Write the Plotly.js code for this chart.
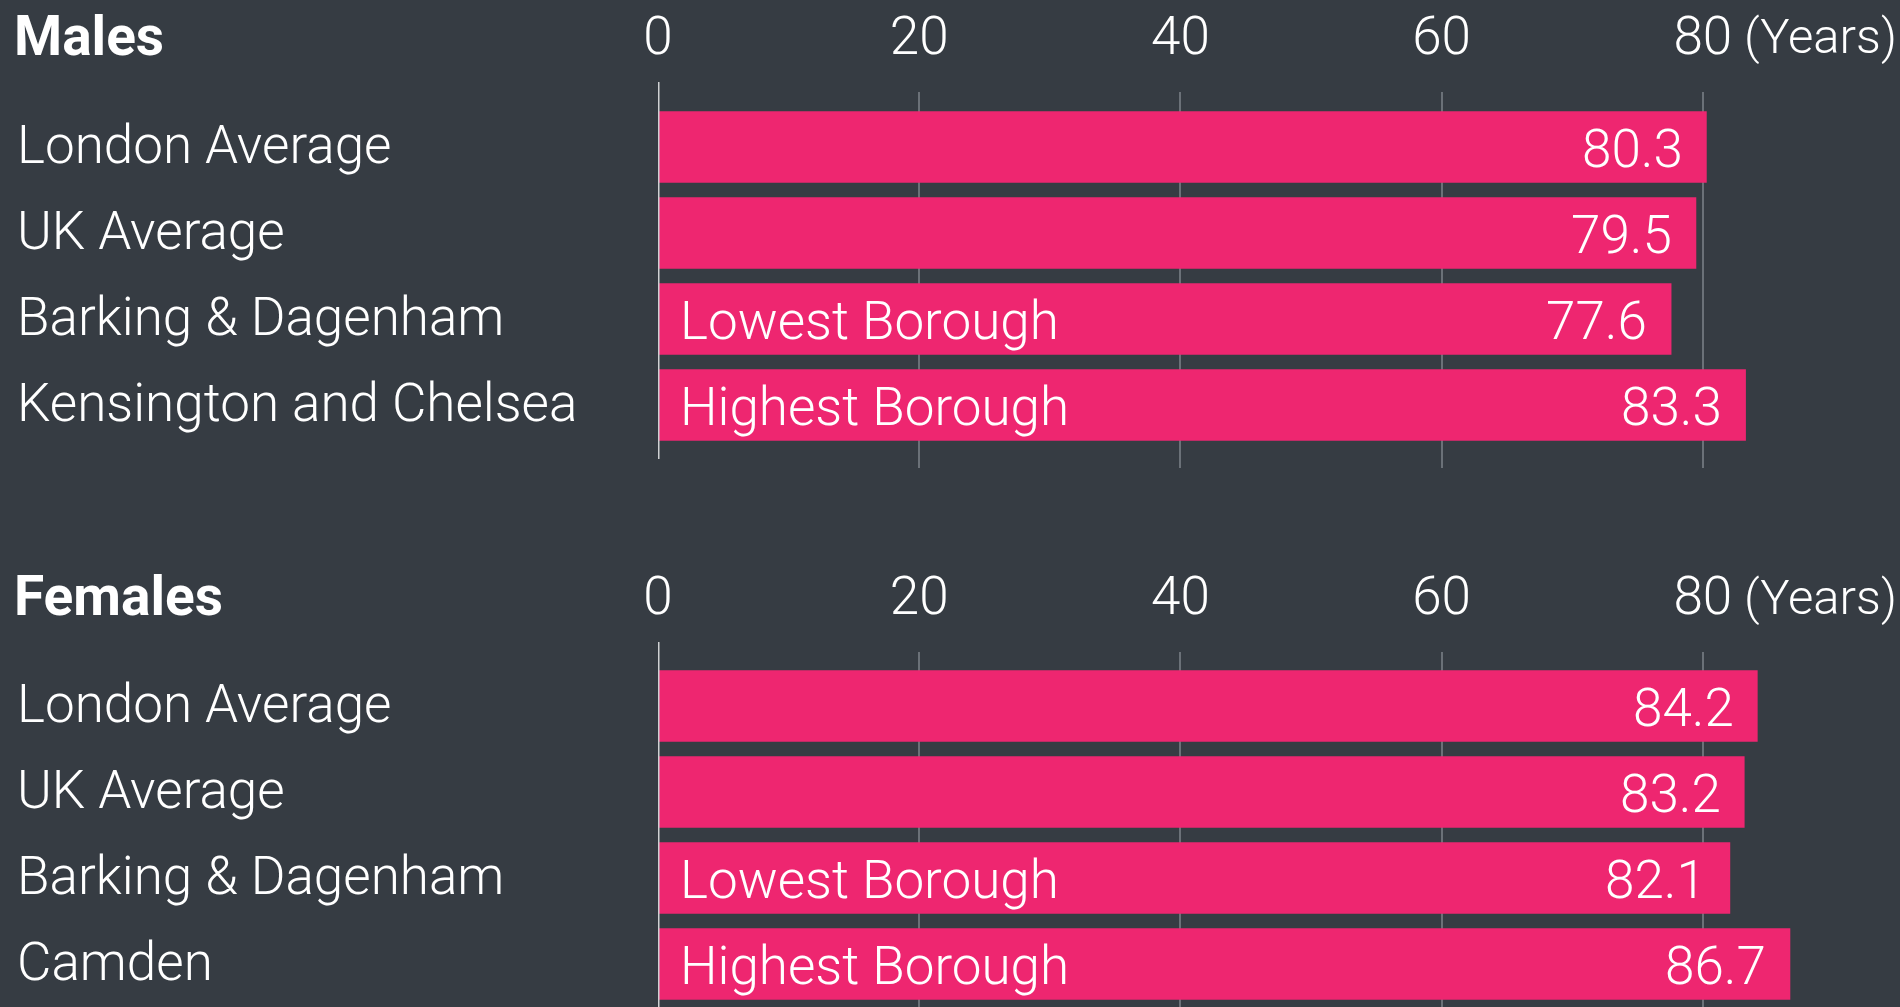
<!DOCTYPE html>
<html>
<head>
<meta charset="utf-8">
<script src="https://cdn.plot.ly/plotly-3.0.1.min.js"></script>
<style>
  html, body { margin: 0; padding: 0; background: #363c43; }
  #chart { width: 1900px; height: 1007px; }
</style>
</head>
<body>
<div id="chart"></div>
<script>
// ---- Data ----
const maleCategories = ['London Average', 'UK Average', 'Barking & Dagenham', 'Kensington and Chelsea'];
const maleValues = [80.3, 79.5, 77.6, 83.3];
const femaleCategories = ['London Average', 'UK Average', 'Barking & Dagenham', 'Camden'];
const femaleValues = [84.2, 83.2, 82.1, 86.7];
const boroughNotes = ['', '', 'Lowest Borough', 'Highest Borough'];
const panelTitles = ['Males', 'Females'];
const tickValues = [0, 20, 40, 60, 80];
const tickLabels = ['0', '20', '40', '60', '80'];
const unitLabel = '(Years)';

// ---- Style ----
const W = 1900, H = 1007;
const BG = '#363c43';
const BAR = '#ee2670';
const GRID = '#6b7178';
const FONT = 'Roboto, "Liberation Sans", sans-serif';
const FS = 53;

const xDomain = [658 / W, 1];
const xRange = [0, (W - 658) / 13.06];

const traces = [
  {
    type: 'bar', orientation: 'h',
    x: maleValues, y: maleCategories,
    xaxis: 'x', yaxis: 'y',
    marker: { color: BAR }, width: 0.83,
    hoverinfo: 'skip', showlegend: false
  },
  {
    type: 'bar', orientation: 'h',
    x: femaleValues, y: femaleCategories,
    xaxis: 'x2', yaxis: 'y2',
    marker: { color: BAR }, width: 0.83,
    hoverinfo: 'skip', showlegend: false
  }
];

function xAxisDef(anchor) {
  return {
    domain: xDomain, range: xRange, anchor: anchor, side: 'top',
    tickmode: 'array', tickvals: tickValues, ticktext: tickLabels,
    showgrid: true, gridcolor: GRID, gridwidth: 2,
    zeroline: false, showline: false, ticks: '',
    ticklabelstandoff: 26,
    tickfont: { family: FONT, size: FS, color: '#ffffff', weight: 300 },
    fixedrange: true
  };
}
function yAxisDef(anchor, domain, range, cats) {
  return {
    domain: domain, range: range, anchor: anchor,
    type: 'category', categoryarray: cats, categoryorder: 'array',
    showgrid: false, zeroline: false, showline: false, showticklabels: false, ticks: '',
    fixedrange: true
  };
}

const annotations = [];
const shapes = [];
const panels = [
  { cats: maleCategories, vals: maleValues, xa: 'x', ya: 'y', titleY: 1 - 36 / H, zeroTop: 1 - 82 / H, zeroBot: 1 - 459 / H },
  { cats: femaleCategories, vals: femaleValues, xa: 'x2', ya: 'y2', titleY: 1 - 596 / H, zeroTop: 1 - 642 / H, zeroBot: 0 }
];
panels.forEach((p, pi) => {
  // panel title
  annotations.push({
    xref: 'paper', yref: 'paper', x: 12 / W, y: p.titleY,
    xanchor: 'left', yanchor: 'middle', showarrow: false,
    text: '<b>' + panelTitles[pi] + '</b>',
    font: { family: FONT, size: 55, color: '#ffffff', weight: 700 }
  });
  // unit label after 80 tick
  annotations.push({
    xref: 'paper', yref: 'paper', x: 1, y: p.titleY,
    xanchor: 'right', yanchor: 'middle', showarrow: false, xshift: -1, yshift: -1,
    text: unitLabel,
    font: { family: FONT, size: 49, color: '#ffffff', weight: 300 }
  });
  p.cats.forEach((c, i) => {
    // category label
    annotations.push({
      xref: 'paper', yref: p.ya, x: 15 / W, y: c,
      xanchor: 'left', yanchor: 'middle', showarrow: false, yshift: 2,
      text: c,
      font: { family: FONT, size: FS, color: '#ffffff', weight: 300 }
    });
    // value label
    annotations.push({
      xref: p.xa, yref: p.ya, x: p.vals[i], y: c,
      xanchor: 'right', yanchor: 'middle', showarrow: false, xshift: -22, yshift: -2,
      text: p.vals[i].toFixed(1),
      font: { family: FONT, size: FS, color: '#ffffff', weight: 300 }
    });
    if (boroughNotes[i]) {
      annotations.push({
        xref: p.xa, yref: p.ya, x: 0, y: c,
        xanchor: 'left', yanchor: 'middle', showarrow: false, xshift: 20, yshift: -2,
        text: boroughNotes[i],
        font: { family: FONT, size: FS, color: '#ffffff', weight: 300 }
      });
    }
  });
  // zero line
  shapes.push({
    type: 'line', xref: p.xa, yref: 'paper', x0: 0, x1: 0, y0: p.zeroBot, y1: p.zeroTop,
    line: { color: '#cfd1d3', width: 3 }, layer: 'above'
  });
});

const layout = {
  width: W, height: H,
  margin: { l: 0, r: 0, t: 0, b: 0, pad: 0 },
  paper_bgcolor: BG, plot_bgcolor: BG,
  bargap: 0.17,
  xaxis: xAxisDef('y'),
  yaxis: yAxisDef('x', [1 - 468 / H, 1 - 92 / H], [3.733, -0.64], maleCategories),
  xaxis2: xAxisDef('y2'),
  yaxis2: yAxisDef('x2', [0, 1 - 652 / H], [3.5, -0.628], femaleCategories),
  annotations: annotations,
  shapes: shapes,
  font: { family: FONT, color: '#ffffff' },
  showlegend: false
};

Plotly.newPlot('chart', traces, layout, { displayModeBar: false, staticPlot: true });
</script>
</body>
</html>
